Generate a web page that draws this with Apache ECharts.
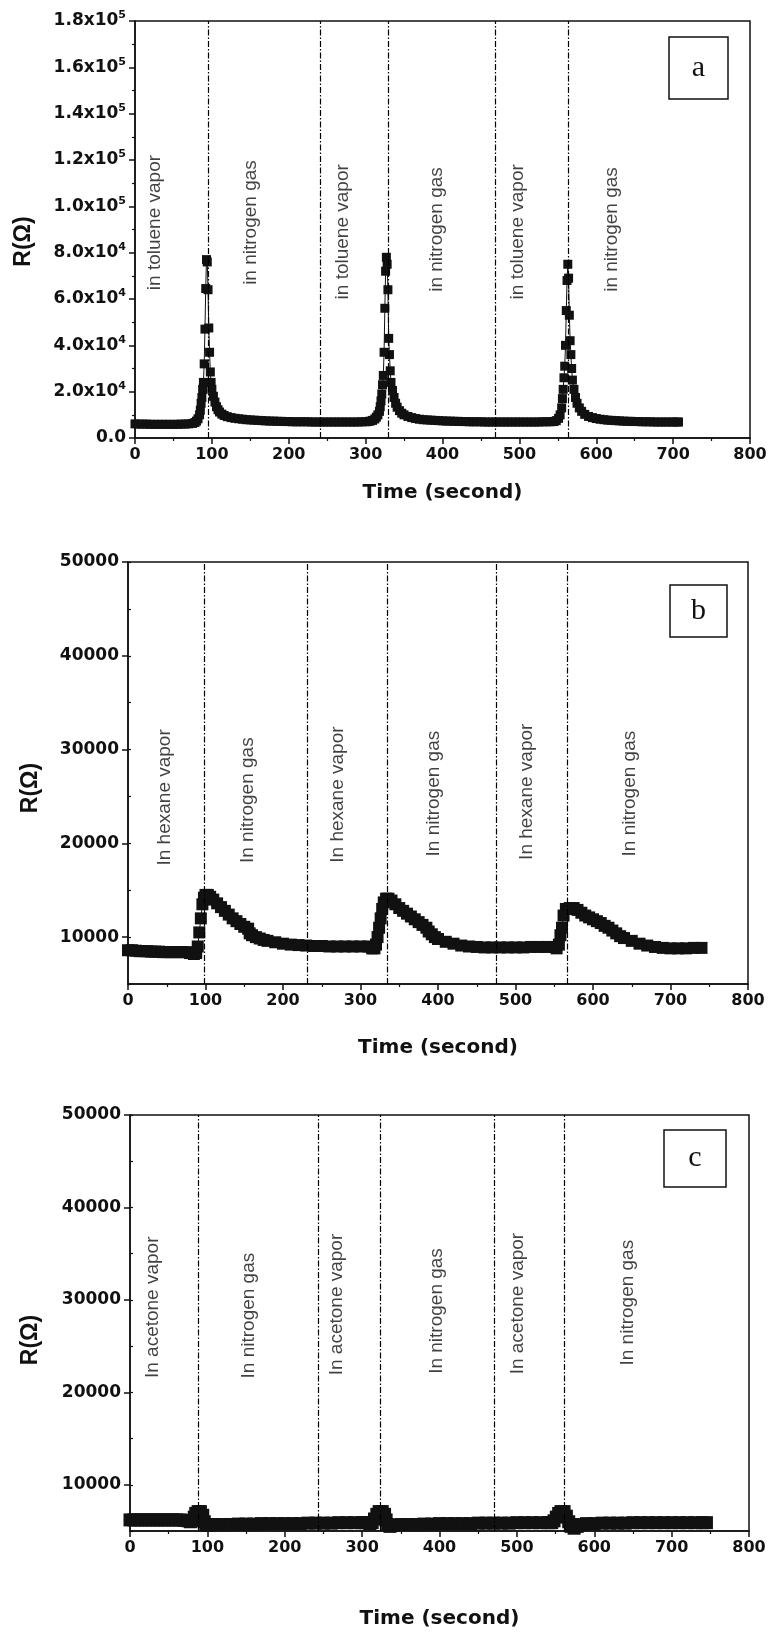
<!DOCTYPE html>
<html>
<head>
<meta charset="utf-8">
<script src="https://cdn.jsdelivr.net/npm/echarts@6/dist/echarts.min.js"></script>
<style>
  html, body { margin: 0; padding: 0; background: #fff; }
  #chart { width: 770px; height: 1639px; }
</style>
</head>
<body>
<div id="chart"></div>
<script>
// Sensor resistance R(Ω) versus time, cycled between vapour and nitrogen gas.

// (a) toluene vapour
const tolueneTime = [
  0, 5, 10, 15, 20, 25, 30, 35, 40, 45, 50, 55, 60, 65, 70, 75,
  78, 80, 82, 84, 85, 86, 87, 88, 89, 90, 91, 92, 93, 94, 95, 96, 97, 98, 99, 100,
  102, 104, 106, 108, 110, 113, 116, 120, 125, 130, 135, 140, 145, 150, 155, 160,
  165, 170, 175, 180, 185, 190, 195, 200,
  205, 210, 215, 220, 225, 230, 235, 240, 245, 250, 255, 260, 265, 270, 275, 280,
  285, 290, 295, 300,
  303, 306, 309, 312, 314, 316, 318, 319, 320, 321, 322, 323, 324, 325, 326, 327,
  328, 329, 330, 331, 332, 333, 335, 337, 339, 341, 344, 347, 350, 355, 360, 365,
  370, 375, 380, 385, 390, 395, 400, 405, 410, 415, 420, 425, 430,
  435, 440, 445, 450, 455, 460, 465, 470, 475, 480, 485, 490, 495, 500, 505, 510,
  515, 520, 525, 530, 535, 540,
  545, 548, 551, 553, 555, 556, 557, 558, 559, 560, 561, 562, 563, 564, 565, 566,
  567, 568, 569, 571, 573, 575, 578, 581, 585, 590, 595, 600, 605, 610, 615, 620,
  625, 630, 635, 640, 645, 650, 655, 660, 665, 670, 675, 680, 685, 690, 695, 700,
  705, 707
];
const tolueneR = [
  6100, 6000, 6000, 6000, 5900, 5900, 5900, 5900, 5900, 5900, 5900, 5900, 6000, 6000, 6100, 6300,
  6700, 7300, 8300, 10000, 12000, 15000, 17500, 21000, 24000, 32000, 47000, 64500, 77000, 76000, 64000, 47500, 37000, 28500, 24000, 21000,
  18000, 15500, 13500, 12200, 11200, 10300, 9700, 9200, 8800, 8500, 8300, 8100, 7900, 7800, 7700, 7600,
  7500, 7400, 7300, 7300, 7200, 7200, 7100, 7100,
  7000, 7000, 7000, 7000, 7000, 6900, 6900, 6900, 6900, 6900, 6900, 6900, 6900, 6900, 6900, 6900,
  6900, 6900, 7000, 7000,
  7100, 7300, 7600, 8200, 9000, 10000, 11500, 13500, 16000, 19000, 23000, 27000, 37000, 56000, 72000, 78000,
  75000, 64000, 43000, 36000, 29000, 24000, 20500, 17500, 15000, 13300, 11800, 10700, 10000, 9300, 8800, 8400,
  8100, 7900, 7800, 7700, 7600, 7500, 7400, 7300, 7300, 7200, 7200, 7100, 7100,
  7000, 7000, 7000, 7000, 6900, 6900, 6900, 6900, 6900, 6900, 6900, 6900, 6900, 6900, 6900, 6900,
  6900, 6900, 6900, 7000, 7000, 7000,
  7100, 7500, 8500, 10000, 13000, 17000, 21000, 26000, 31000, 40000, 55000, 68000, 75000, 69000, 53000, 42000,
  36000, 30000, 25000, 21000, 17500, 15000, 13000, 11500, 10200, 9300, 8800, 8400, 8100, 7900, 7700, 7600,
  7500, 7400, 7300, 7200, 7200, 7100, 7100, 7000, 7000, 7000, 6900, 6900, 6900, 6900, 6900, 6900,
  6900, 6900
];

// (b) hexane vapour
const hexaneTime = [
  0, 5, 10, 15, 20, 25, 30, 35, 40, 45, 50, 55, 60, 65, 70, 75,
  80, 85, 88, 90, 92, 94, 96, 98, 100, 103, 106, 110, 115, 120, 125, 130,
  135, 140, 145, 150, 155, 157, 160, 165, 170, 175, 180, 190, 200, 210, 220, 230,
  240, 250, 260, 270, 280, 290, 300, 310, 315, 318, 320, 322, 324, 326, 328, 330,
  333, 336, 340, 345, 350, 355, 360, 365, 370, 375, 380, 385, 388, 392, 396, 400,
  410, 420, 430, 440, 450, 460, 470, 480, 490, 500, 510, 520, 530, 540, 550, 553,
  556, 558, 560, 562, 565, 570, 575, 580, 585, 590, 595, 600, 605, 610, 615, 620,
  625, 630, 635, 640, 650, 660, 670, 680, 690, 700, 710, 720, 730, 740
];
const hexaneR = [
  8600, 8600, 8550, 8500, 8500, 8500, 8450, 8450, 8450, 8400, 8400, 8400, 8400, 8400, 8400, 8400,
  8300, 8200, 8300, 9000, 10500, 12000, 13500, 14200, 14500, 14500, 14300, 14000, 13600, 13200, 12800, 12400,
  12000, 11700, 11400, 11100, 10900, 10400, 10200, 10000, 9850, 9700, 9600, 9450, 9300, 9200, 9150, 9100,
  9050, 9050, 9000, 9000, 9000, 9000, 9000, 9000, 8800, 8800, 9200, 10000, 11000, 12000, 13000, 13700,
  14100, 14100, 13900, 13500, 13100, 12800, 12500, 12200, 11900, 11600, 11300, 11000, 10600, 10300, 10000, 9800,
  9500, 9300, 9100, 9000, 8950, 8900, 8900, 8900, 8900, 8900, 8900, 8950, 8950, 8950, 8950, 8800,
  9200, 10200, 11000, 12300, 13000, 13100, 13100, 12900, 12600, 12300, 12100, 11900, 11700, 11500, 11200, 11000,
  10700, 10400, 10100, 9900, 9600, 9300, 9100, 8950, 8850, 8800, 8800, 8800, 8850, 8850
];

// (c) acetone vapour
const acetoneTime = [
  0, 5, 10, 15, 20, 25, 30, 35, 40, 45, 50, 55, 60, 65, 70, 75,
  78, 80, 83, 85, 88, 91, 94, 96, 98, 100, 105, 110, 120, 130, 140, 150,
  160, 170, 180, 190, 200, 210, 220, 230, 240, 250, 260, 270, 280, 290, 300, 305,
  310, 313, 316, 319, 322, 326, 329, 331, 333, 336, 340, 350, 360, 370, 380, 390,
  400, 410, 420, 430, 440, 450, 460, 470, 480, 490, 500, 510, 520, 530, 540, 545,
  548, 551, 554, 557, 561, 564, 567, 570, 574, 578, 582, 590, 600, 610, 620, 630,
  640, 650, 660, 670, 680, 690, 700, 710, 720, 730, 740, 745
];
const acetoneR = [
  6200, 6200, 6200, 6200, 6200, 6200, 6200, 6200, 6200, 6200, 6200, 6200, 6200, 6200, 6150, 6100,
  6000, 6100, 6500, 6900, 7100, 7100, 6700, 6000, 5700, 5600, 5650, 5700, 5700, 5700, 5750, 5750,
  5750, 5800, 5800, 5800, 5800, 5800, 5800, 5850, 5850, 5850, 5850, 5900, 5900, 5900, 5900, 5900,
  5800, 5900, 6300, 6800, 7100, 7100, 6800, 6200, 5700, 5500, 5600, 5700, 5700, 5700, 5750, 5750,
  5800, 5800, 5800, 5800, 5800, 5850, 5850, 5850, 5850, 5850, 5900, 5900, 5900, 5900, 5900, 5900,
  6100, 6500, 6900, 7100, 7100, 6600, 6000, 5500, 5300, 5500, 5700, 5800, 5800, 5850, 5850, 5850,
  5850, 5900, 5900, 5900, 5900, 5900, 5900, 5900, 5900, 5900, 5900, 5900
];

// gas switching instants (s)
const tolueneSwitch = [95, 241, 329, 468, 563];
const hexaneSwitch = [98, 231, 334, 475, 567];
const acetoneSwitch = [88, 243, 324, 471, 561];

// exposure labels: [time, R, text]
const tolueneNotes = [
  [26, 93000, 'in toluene vapor'], [150, 93000, 'in nitrogen gas'],
  [270, 89000, 'in toluene vapor'], [393, 90000, 'in nitrogen gas'],
  [498, 89000, 'in toluene vapor'], [620, 90000, 'in nitrogen gas']
];
const hexaneNotes = [
  [48, 24900, 'In hexane vapor'], [155, 24600, 'In nitrogen gas'],
  [271, 25200, 'In hexane vapor'], [394, 25300, 'In nitrogen gas'],
  [515, 25500, 'In hexane vapor'], [648, 25300, 'In nitrogen gas']
];
const acetoneNotes = [
  [30, 29200, 'In acetone vapor'], [153, 28300, 'In nitrogen gas'],
  [267, 29500, 'In acetone vapor'], [396, 28800, 'In nitrogen gas'],
  [501, 29600, 'In acetone vapor'], [643, 29700, 'In nitrogen gas']
];

// tick values
const xTicks = [0, 100, 200, 300, 400, 500, 600, 700, 800];
const rTicksLinear = [10000, 20000, 30000, 40000, 50000];

const INK = '#111';
const BOLD_FONT = 'DejaVu Sans';
const SANS = 'Liberation Sans';

const pairs = (t, r) => t.map((x, i) => [x, r[i]]);

const grids = [
  { left: 135, top: 21, width: 615, height: 417 },
  { left: 128, top: 562, width: 620, height: 422 },
  { left: 130, top: 1115, width: 619, height: 416 }
].map(g => Object.assign({ show: true, borderColor: INK, borderWidth: 1.5, backgroundColor: 'transparent' }, g));

const xNameGaps = [45, 54, 78];

const xAxes = grids.map((g, i) => ({
  type: 'value', gridIndex: i, min: 0, max: 800, interval: 100,
  axisLine: { show: true, onZero: false, lineStyle: { color: INK, width: 1.5 } },
  axisTick: { show: true, length: 6, lineStyle: { color: INK, width: 1.5 } },
  minorTick: { show: true, splitNumber: 2, length: 3, lineStyle: { color: INK, width: 1.2 } },
  splitLine: { show: false },
  axisLabel: { color: INK, fontFamily: BOLD_FONT, fontWeight: 'bold', fontSize: 16, margin: 9,
               customValues: xTicks, formatter: v => String(v) },
  name: 'Time (second)', nameLocation: 'middle', nameGap: xNameGaps[i],
  nameTextStyle: { color: INK, fontFamily: BOLD_FONT, fontWeight: 'bold', fontSize: 20 }
}));

const yNameStyle = pad => ({ color: INK, fontFamily: SANS, fontWeight: 'bold', fontSize: 23, padding: [0, pad, 0, 0] });

function sciLabel(v) {
  if (v === 0) return '{m|0.0}';
  const e = Math.floor(Math.log10(v) + 1e-9);
  const m = v / Math.pow(10, e);
  return '{m|' + m.toFixed(1) + 'x10}{s|' + e + '}';
}

const yAxes = [
  {
    type: 'value', gridIndex: 0, min: 0, max: 180000, interval: 20000,
    axisLine: { show: true, onZero: false, lineStyle: { color: INK, width: 1.5 } },
    axisTick: { show: true, length: 6, lineStyle: { color: INK, width: 1.5 } },
    minorTick: { show: true, splitNumber: 2, length: 3, lineStyle: { color: INK, width: 1.2 } },
    splitLine: { show: false },
    axisLabel: {
      color: INK, margin: 9, formatter: sciLabel,
      rich: {
        m: { fontFamily: BOLD_FONT, fontWeight: 'bold', fontSize: 17, color: INK, lineHeight: 22 },
        s: { fontFamily: BOLD_FONT, fontWeight: 'bold', fontSize: 11, color: INK, lineHeight: 11, verticalAlign: 'top' }
      }
    },
    name: 'R(Ω)', nameLocation: 'middle', nameGap: 100, nameTextStyle: yNameStyle(24)
  }
];
[1, 2].forEach(i => {
  yAxes.push({
    type: 'value', gridIndex: i, min: 5000, max: 50000, interval: 5000,
    axisLine: { show: true, onZero: false, lineStyle: { color: INK, width: 1.5 } },
    axisTick: { show: true, length: 6, customValues: rTicksLinear, lineStyle: { color: INK, width: 1.5 } },
    splitLine: { show: false },
    axisLabel: { color: INK, fontFamily: BOLD_FONT, fontWeight: 'bold', fontSize: 17, margin: 9,
                 customValues: rTicksLinear, formatter: v => String(v) },
    name: 'R(Ω)', nameLocation: 'middle', nameGap: i === 1 ? 86 : 88, nameTextStyle: yNameStyle(i === 1 ? 30 : 34)
  });
  // short ticks halfway between labelled values
  yAxes.push({
    type: 'value', gridIndex: i, min: 5000, max: 50000, interval: 5000,
    axisLine: { show: false },
    axisTick: { show: true, length: 3, lineStyle: { color: INK, width: 1.2 } },
    axisLabel: { show: false }, splitLine: { show: false }
  });
});

function switchLines(xs) {
  return {
    silent: true, symbol: 'none', animation: false,
    label: { show: false },
    lineStyle: { color: '#000', width: 1.2, type: [6, 2, 1.5, 2] },
    data: xs.map(x => ({ xAxis: x }))
  };
}

function dataSeries(gridIdx, yIdx, t, r, size, xs) {
  return {
    type: 'line', xAxisIndex: gridIdx, yAxisIndex: yIdx,
    data: pairs(t, r), symbol: 'rect', symbolSize: size, showSymbol: true,
    itemStyle: { color: INK }, lineStyle: { color: INK, width: 1 },
    markLine: switchLines(xs), z: 3
  };
}

function noteSeries(gridIdx, yIdx, notes) {
  return {
    type: 'scatter', xAxisIndex: gridIdx, yAxisIndex: yIdx, symbolSize: 0, silent: true,
    data: notes,
    label: {
      show: true, position: 'inside', rotate: 90, formatter: p => p.data[2],
      color: INK, fontFamily: SANS, fontSize: 19
    }
  };
}

const series = [
  dataSeries(0, 0, tolueneTime, tolueneR, 9, tolueneSwitch),
  noteSeries(0, 0, tolueneNotes),
  dataSeries(1, 1, hexaneTime, hexaneR, 12, hexaneSwitch),
  noteSeries(1, 1, hexaneNotes),
  dataSeries(2, 3, acetoneTime, acetoneR, 13, acetoneSwitch),
  noteSeries(2, 3, acetoneNotes)
];

// panel letters in framed boxes
function letterBox(letter, x, y, w, h) {
  return [
    { type: 'rect', shape: { x: x, y: y, width: w, height: h },
      style: { fill: '#fff', stroke: INK, lineWidth: 1.5 }, z: 10 },
    { type: 'text', x: x + w / 2, y: y + h / 2, z: 11,
      style: { text: letter, fill: INK, font: '30px "Liberation Serif"', align: 'center', verticalAlign: 'middle' } }
  ];
}

const chart = echarts.init(document.getElementById('chart'), null, { renderer: 'canvas' });
chart.setOption({
  animation: false,
  backgroundColor: '#fff',
  grid: grids,
  xAxis: xAxes,
  yAxis: yAxes,
  series: series,
  graphic: [].concat(
    letterBox('a', 669, 37, 59, 62),
    letterBox('b', 670, 585, 57, 52),
    letterBox('c', 664, 1130, 62, 57)
  )
});
</script>
</body>
</html>
